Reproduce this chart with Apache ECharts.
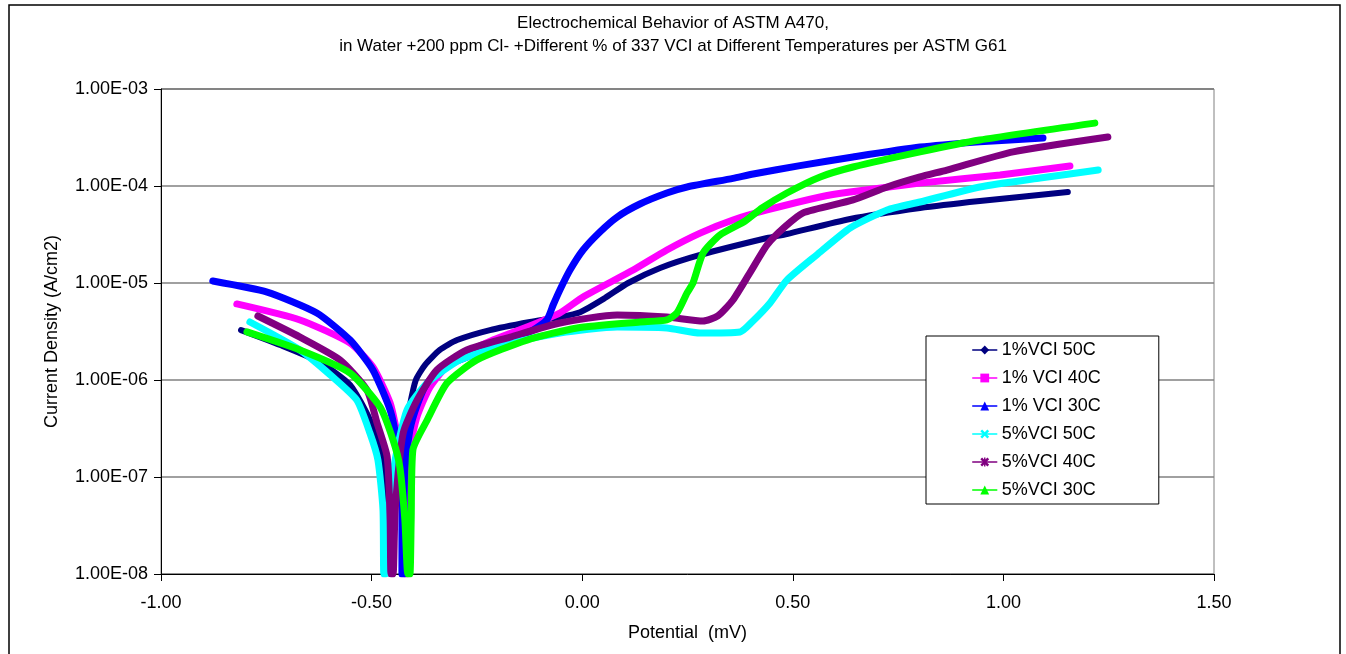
<!DOCTYPE html>
<html>
<head>
<meta charset="utf-8">
<script src="https://cdn.jsdelivr.net/npm/echarts@6/dist/echarts.min.js"></script>
<style>
  html, body { margin: 0; padding: 0; background: #fff; }
  #chart { width: 1346px; height: 654px; }
</style>
</head>
<body>
<div id="chart"></div>
<script>
// Polarization curves: potential (V) vs current density (A/cm2)
const seriesNames = ['1%VCI 50C', '1% VCI 40C', '1% VCI 30C', '5%VCI 50C', '5%VCI 40C', '5%VCI 30C'];
const xTicks = [-1.0, -0.5, 0.0, 0.5, 1.0, 1.5];

const vci1at50E = [-0.810, -0.717, -0.623, -0.551, -0.504, -0.480, -0.466, -0.459, -0.456, -0.452, -0.447, -0.437, -0.423, -0.409, -0.395, -0.373, -0.338, -0.297, -0.219, -0.124, -0.053, -0.005, 0.054, 0.109, 0.185, 0.280, 0.439, 0.486, 0.636, 0.802, 0.944, 1.153];
const vci1at50I = [3.27e-6, 2.30e-6, 1.53e-6, 8.9e-7, 3.9e-7, 1.9e-7, 9.3e-8, 3.6e-8, 1.0e-8, 1.0e-8, 3.6e-8, 1.18e-7, 2.4e-7, 5.5e-7, 1.0e-6, 1.43e-6, 2.04e-6, 2.58e-6, 3.27e-6, 3.96e-6, 4.46e-6, 5.0e-6, 7.0e-6, 1.0e-5, 1.43e-5, 1.95e-5, 2.91e-5, 3.2e-5, 4.57e-5, 5.93e-5, 7.0e-5, 8.67e-5];

const vci1at40E = [-0.820, -0.670, -0.551, -0.497, -0.456, -0.437, -0.428, -0.423, -0.421, -0.416, -0.414, -0.409, -0.392, -0.361, -0.307, -0.212, -0.131, -0.053, 0.002, 0.121, 0.201, 0.280, 0.358, 0.439, 0.565, 0.636, 0.802, 0.992, 1.158];
const vci1at40I = [6.08e-6, 4.16e-6, 2.40e-6, 1.36e-6, 5.8e-7, 2.4e-7, 9.3e-8, 2.8e-8, 1.0e-8, 1.0e-8, 2.8e-8, 1.9e-7, 4.2e-7, 8.5e-7, 1.61e-6, 2.58e-6, 3.52e-6, 4.91e-6, 7.18e-6, 1.36e-5, 2.19e-5, 3.27e-5, 4.46e-5, 5.66e-5, 7.71e-5, 8.67e-5, 1.07e-4, 1.30e-4, 1.61e-4];

const vci1at30E = [-0.877, -0.748, -0.630, -0.551, -0.497, -0.456, -0.440, -0.428, -0.428, -0.428, -0.423, -0.423, -0.421, -0.409, -0.392, -0.368, -0.307, -0.212, -0.117, -0.084, -0.069, -0.053, -0.029, 0.002, 0.042, 0.083, 0.137, 0.201, 0.249, 0.358, 0.406, 0.517, 0.643, 0.802, 0.944, 1.094];
const vci1at30I = [1.05e-5, 8.07e-6, 4.91e-6, 2.58e-6, 1.27e-6, 4.9e-7, 2.4e-7, 1.1e-7, 3.6e-8, 1.0e-8, 1.0e-8, 3.6e-8, 1.18e-7, 3.06e-7, 5.5e-7, 9.3e-7, 1.50e-6, 2.19e-6, 3.27e-6, 4.16e-6, 5.93e-6, 8.47e-6, 1.36e-5, 2.19e-5, 3.36e-5, 4.79e-5, 6.52e-5, 8.47e-5, 9.77e-5, 1.20e-4, 1.33e-4, 1.62e-4, 1.99e-4, 2.52e-4, 2.85e-4, 3.13e-4];

const vci5at50E = [-0.789, -0.670, -0.592, -0.535, -0.504, -0.485, -0.473, -0.471, -0.466, -0.461, -0.444, -0.416, -0.368, -0.290, -0.171, -0.053, 0.083, 0.201, 0.280, 0.375, 0.403, 0.446, 0.486, 0.557, 0.636, 0.724, 0.802, 0.944, 1.087, 1.225];
const vci5at50I = [3.96e-6, 2.04e-6, 1.07e-6, 6.2e-7, 2.84e-7, 1.5e-7, 4.6e-8, 1.0e-8, 1.0e-8, 3.6e-8, 1.5e-7, 4.9e-7, 9.3e-7, 1.61e-6, 2.40e-6, 3.05e-6, 3.52e-6, 3.44e-6, 3.05e-6, 3.13e-6, 3.96e-6, 6.22e-6, 1.07e-5, 1.95e-5, 3.69e-5, 5.66e-5, 6.84e-5, 9.77e-5, 1.21e-4, 1.46e-4];

const vci5at40E = [-0.770, -0.670, -0.575, -0.511, -0.487, -0.463, -0.456, -0.454, -0.449, -0.444, -0.425, -0.392, -0.345, -0.274, -0.171, -0.053, 0.083, 0.201, 0.287, 0.322, 0.358, 0.398, 0.439, 0.481, 0.524, 0.643, 0.724, 0.802, 0.866, 1.023, 1.248];
const vci5at40I = [4.57e-6, 2.77e-6, 1.61e-6, 7.9e-7, 3.6e-7, 1.61e-7, 3.6e-8, 1.0e-8, 1.0e-8, 4.6e-8, 2.84e-7, 6.2e-7, 1.27e-6, 2.04e-6, 2.77e-6, 3.87e-6, 4.68e-6, 4.46e-6, 4.06e-6, 4.57e-6, 6.68e-6, 1.27e-5, 2.47e-5, 3.78e-5, 5.27e-5, 7.18e-5, 9.77e-5, 1.24e-4, 1.46e-4, 2.25e-4, 3.2e-4];

const vci5at30E = [-0.796, -0.670, -0.551, -0.480, -0.449, -0.433, -0.421, -0.414, -0.409, -0.406, -0.402, -0.368, -0.321, -0.250, -0.131, -0.012, 0.137, 0.201, 0.225, 0.249, 0.263, 0.287, 0.327, 0.387, 0.427, 0.486, 0.565, 0.643, 0.802, 0.944, 1.217];
const vci5at30I = [3.13e-6, 2.04e-6, 1.18e-6, 5.27e-7, 2.4e-7, 1.27e-7, 3.6e-8, 1.0e-8, 1.0e-8, 3.6e-8, 1.9e-7, 3.87e-7, 9.3e-7, 1.61e-6, 2.58e-6, 3.44e-6, 3.96e-6, 4.16e-6, 4.91e-6, 7.9e-6, 1.0e-5, 2.04e-5, 3.13e-5, 4.36e-5, 5.93e-5, 8.47e-5, 1.24e-4, 1.57e-4, 2.25e-4, 2.98e-4, 4.45e-4];

const potentials = [vci1at50E, vci1at40E, vci1at30E, vci5at50E, vci5at40E, vci5at30E];
const currents = [vci1at50I, vci1at40I, vci1at30I, vci5at50I, vci5at40I, vci5at30I];
const colors = ['#000080', '#FF00FF', '#0000FF', '#00FFFF', '#800080', '#00FF00'];
const crossPath = 'path://M2,0 L5,3 L8,0 L10,2 L7,5 L10,8 L8,10 L5,7 L2,10 L0,8 L3,5 L0,2 Z';
const starPath = 'path://M2,0 L5,3 L8,0 L10,2 L7,5 L10,8 L8,10 L5,7 L2,10 L0,8 L3,5 L0,2 Z M4.2,0 L5.8,0 L5.8,10 L4.2,10 Z';
const markers = ['diamond', 'rect', 'triangle', crossPath, starPath, 'triangle'];
const widths = [6, 7, 7, 7, 7, 7];

const FONT = '"Liberation Sans", Arial, sans-serif';

function sciLabel(v) {
  const e = Math.round(Math.log10(v));
  const sign = e < 0 ? '-' : '+';
  const a = Math.abs(e);
  return '1.00E' + sign + (a < 10 ? '0' + a : '' + a);
}

const series = seriesNames.map((name, k) => ({
  name: name,
  type: 'line',
  data: potentials[k].map((e, i) => [e, currents[k][i]]),
  symbol: markers[k],
  showSymbol: false,
  smooth: 0.2,
  clip: true,
  lineStyle: { color: colors[k], width: widths[k], cap: 'round', join: 'round' },
  itemStyle: { color: colors[k] },
  emphasis: { disabled: true },
  animation: false
}));

const chart = echarts.init(document.getElementById('chart'), null, { renderer: 'canvas' });
chart.setOption({
  backgroundColor: '#fff',
  animation: false,
  textStyle: { fontFamily: FONT },
  title: {
    text: 'Electrochemical Behavior of ASTM A470,\nin Water +200 ppm Cl- +Different % of 337 VCI at Different Temperatures per ASTM G61',
    left: 'center',
    top: 7,
    textStyle: { fontFamily: FONT, fontSize: 17, fontWeight: 'normal', color: '#000', lineHeight: 23 }
  },
  graphic: [{
    type: 'rect',
    shape: { x: 9, y: 5, width: 1331, height: 700 },
    style: { fill: 'none', stroke: '#000', lineWidth: 1.5 },
    silent: true, z: 100
  }],
  grid: { left: 161, right: 132, top: 89, bottom: 80, show: true, borderColor: '#808080', borderWidth: 1, backgroundColor: '#fff' },
  legend: {
    orient: 'vertical',
    left: 926,
    top: 336,
    padding: [5, 58, 5, 46],
    itemWidth: 24,
    itemHeight: 11,
    itemGap: 10,
    backgroundColor: '#fff',
    borderColor: '#000',
    borderWidth: 1,
    lineStyle: { width: 1.5 },
    textStyle: { fontFamily: FONT, fontSize: 18, color: '#000', lineHeight: 18 },
    data: seriesNames
  },
  xAxis: {
    type: 'value',
    min: xTicks[0],
    max: xTicks[xTicks.length - 1],
    interval: 0.5,
    name: 'Potential  (mV)',
    nameLocation: 'middle',
    nameGap: 50,
    nameTextStyle: { fontFamily: FONT, fontSize: 18, color: '#000' },
    axisLine: { show: true, onZero: false, lineStyle: { color: '#000', width: 1 } },
    axisTick: { show: true, length: 7, lineStyle: { color: '#000' } },
    axisLabel: { fontFamily: FONT, fontSize: 18, color: '#000', margin: 20, formatter: v => v.toFixed(2) },
    splitLine: { show: false }
  },
  yAxis: {
    type: 'log',
    logBase: 10,
    min: 1e-8,
    max: 1e-3,
    name: 'Current Density (A/cm2)',
    nameLocation: 'middle',
    nameGap: 100,
    nameTextStyle: { fontFamily: FONT, fontSize: 18, color: '#000' },
    axisLine: { show: true, onZero: false, lineStyle: { color: '#000', width: 1 } },
    axisTick: { show: true, length: 7, lineStyle: { color: '#000' } },
    axisLabel: { fontFamily: FONT, fontSize: 18, color: '#000', margin: 13, formatter: sciLabel },
    splitLine: { show: true, lineStyle: { color: '#808080', width: 1.5 } },
    minorTick: { show: false },
    minorSplitLine: { show: false }
  },
  series: series
});
</script>
</body>
</html>
